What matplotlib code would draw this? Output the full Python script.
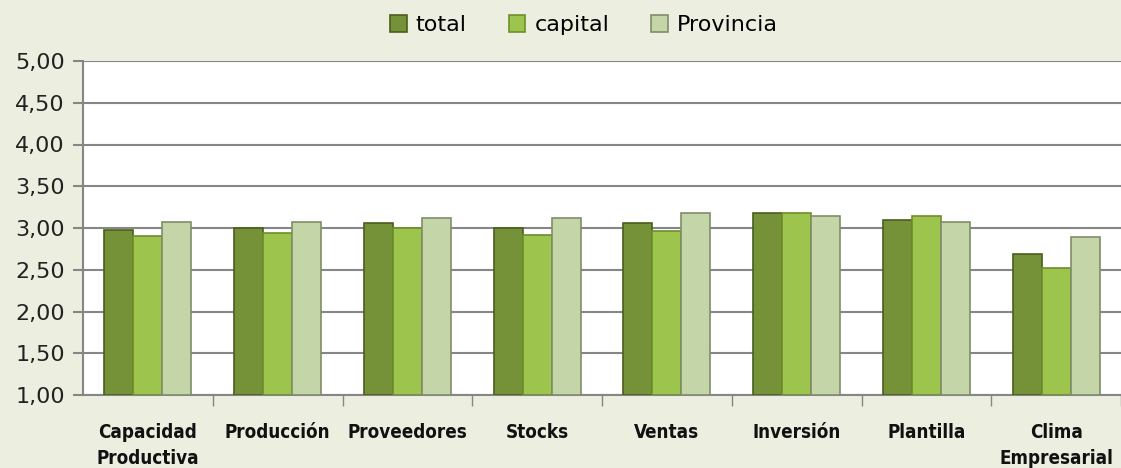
import matplotlib
matplotlib.use("Agg")
import matplotlib.pyplot as plt
import numpy as np
from matplotlib import font_manager

categories = ["Capacidad\nProductiva", "Producción", "Proveedores", "Stocks",
              "Ventas", "Inversión", "Plantilla", "Clima\nEmpresarial"]
total = [2.98, 3.00, 3.06, 3.00, 3.06, 3.18, 3.10, 2.69]
capital = [2.90, 2.94, 3.00, 2.92, 2.96, 3.18, 3.14, 2.52]
provincia = [3.07, 3.07, 3.12, 3.12, 3.18, 3.14, 3.07, 2.89]
series_names = ["total", "capital", "Provincia"]
yticks = [1.0, 1.5, 2.0, 2.5, 3.0, 3.5, 4.0, 4.5, 5.0]

names = {f.name for f in font_manager.fontManager.ttflist}
cond = [f for f in font_manager.fontManager.ttflist
        if f.name == "DejaVu Sans" and str(f.stretch) in ("condensed", "semi-condensed")]
if "Liberation Sans Narrow" in names:
    lab_font = dict(family="Liberation Sans Narrow", fontsize=14)
elif cond:
    lab_font = dict(family="DejaVu Sans", fontstretch="condensed", fontsize=13.5)
else:
    lab_font = dict(family="DejaVu Sans", fontsize=12)

bg = "#ECEFE0"
fig = plt.figure(figsize=(11.21, 4.68), dpi=100, facecolor=bg)
ax = fig.add_axes([83/1121, 73/468, 1 - 83/1121, (395-61)/468])
ax.set_facecolor("white")

x = np.arange(len(categories))
w = 0.223
face = ["#759238", "#9DC44C", "#C4D5A8"]
edge = ["#4A5E1E", "#6E8F2A", "#7F8E68"]
for i, vals in enumerate([total, capital, provincia]):
    ax.bar(x + (i-1)*w, np.array(vals) - 1.0, w, bottom=1.0, color=face[i],
           edgecolor=edge[i], linewidth=1.2, label=series_names[i], zorder=3)

ax.set_ylim(1.0, 5.0)
ax.set_xlim(-0.5, -0.5 + (1121-83)/131.3)
ax.set_yticks(yticks)
ax.set_yticklabels([f"{v:.2f}".replace(".", ",") for v in yticks], fontsize=16, color="#222222")
ax.yaxis.grid(True, color="#868686", linewidth=1.5, zorder=0)
ax.set_axisbelow(True)
for s in ["top", "right"]:
    ax.spines[s].set_visible(False)
ax.spines["left"].set_color("#868686")
ax.spines["left"].set_linewidth(1.5)
ax.spines["bottom"].set_color("#868686")
ax.spines["bottom"].set_linewidth(1.5)
ax.tick_params(axis="y", length=7, width=1.5, color="#868686", pad=6)

ax.set_xticks(np.arange(0.5, len(categories), 1.0))
ax.set_xticklabels([])
ax.tick_params(axis="x", length=8, width=1, color="#868686")
ax.set_xticks(x, minor=True)
ax.set_xticklabels(categories, minor=True, fontweight="bold", linespacing=1.45,
                   color="#111111", **lab_font)
ax.tick_params(axis="x", which="minor", length=0, pad=20)

leg = fig.legend(loc="upper center", bbox_to_anchor=(0.521, 1.01), ncol=3, frameon=False,
                 fontsize=16, handlelength=0.75, handleheight=0.75, columnspacing=1.9,
                 handletextpad=0.4)
fig.savefig("out.png", dpi=100, facecolor=bg)
